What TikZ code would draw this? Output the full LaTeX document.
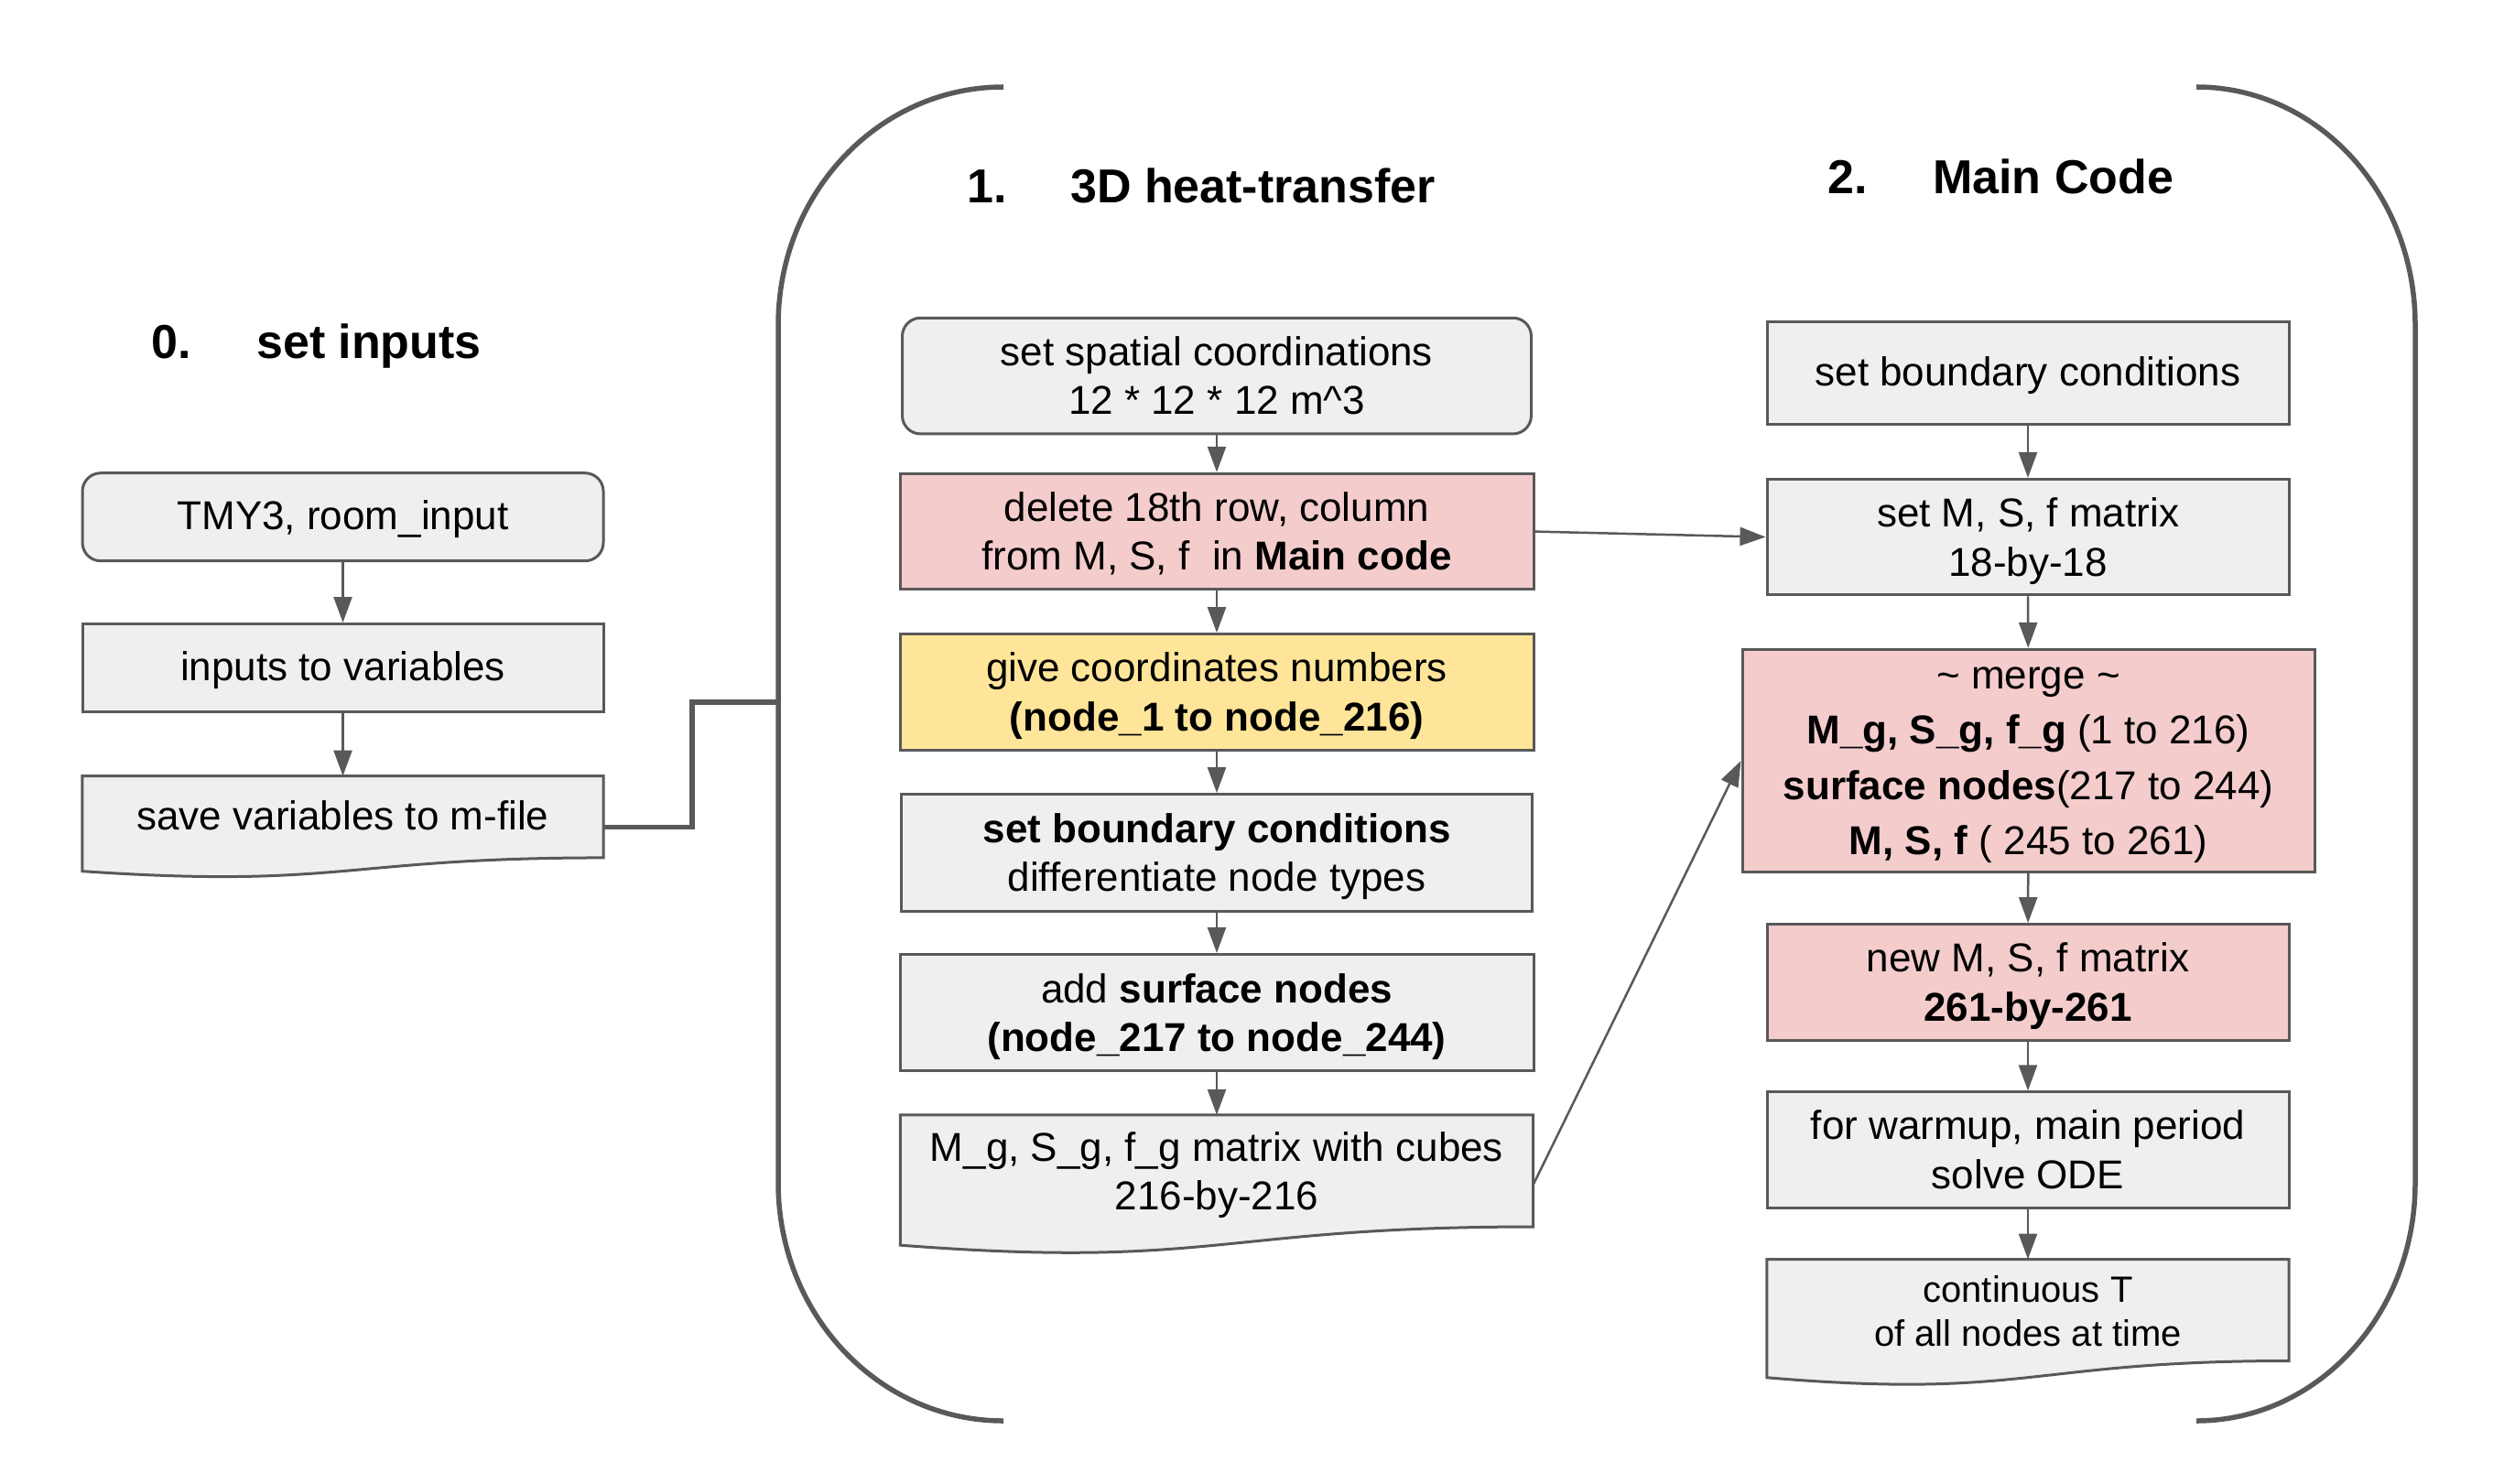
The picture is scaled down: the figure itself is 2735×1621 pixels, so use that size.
\documentclass[tikz,border=0pt]{standalone}
\usepackage{fontspec}
\setmainfont{Liberation Sans}
\usetikzlibrary{arrows.meta,calc}
\definecolor{strk}{HTML}{595959}
\definecolor{gfill}{HTML}{EFEFEF}
\definecolor{pfill}{HTML}{F4CCCC}
\definecolor{yfill}{HTML}{FFE599}
\newcommand\myBody{\fontsize{44}{53.5}\selectfont}
\newcommand\mySmall{\fontsize{40}{48}\selectfont}
\newcommand\myMerge{\fontsize{44}{60.5}\selectfont}
\newcommand\myTitle{\fontsize{52}{62}\selectfont\bfseries}
\newcommand\sB{\rule[-0.212em]{0pt}{0.1em}}
\newcommand\sT{\rule[-0.05em]{0pt}{0.905em}}
\newcommand\sTT{\rule[-0.05em]{0pt}{\dimexpr0.905em+3pt\relax}}
\newcommand\sTM{\rule[-0.05em]{0pt}{\dimexpr0.905em-4pt\relax}}
\tikzset{
  box/.style={draw=strk, line width=3pt, fill=gfill, inner sep=0pt, align=center, font=\myBody},
  rbox/.style={box, rounded corners=20pt},
  pinkbox/.style={box, fill=pfill},
  yelbox/.style={box, fill=yfill},
  docframe/.style={draw=none, inner sep=0pt},
  docshape/.style={draw=strk, line width=3pt, fill=gfill, line join=miter},
  doctext/.style={inner sep=0pt, align=center, font=\myBody},
  ttl/.style={inner sep=0pt, anchor=base west, font=\myTitle},
  arr/.style={draw=strk, line width=2.5pt, -{Triangle[length=28pt,width=20pt]}},
  bracketline/.style={draw=strk, line width=5.5pt},
}
\newcommand\docpath[1]{%
  \path[docshape] (#1.north west) -- (#1.north east) -- ($(#1.north east)!0.802!(#1.south east)$)
    .. controls ($(#1.north)!0.802!(#1.south)$) and ($(#1.north)!1.1075!(#1.south)$) ..
    ($(#1.north west)!0.934!(#1.south west)$) -- cycle;}
\begin{document}
\begin{tikzpicture}[x=1pt,y=-1pt]
\useasboundingbox (0,0) rectangle (2735,1621);

% titles
\node[ttl] (t0n) at (165,391) {0.};
\node[ttl] (t0) at (280,391) {set inputs};
\node[ttl] (t1n) at (1056,222) {1.};
\node[ttl] (t1) at (1169,222) {3D heat-transfer};
\node[ttl] (t2n) at (1996,212) {2.};
\node[ttl] (t2) at (2111,212) {Main Code};

% brackets
\draw[bracketline] (1096,95) .. controls (960,95) and (850,211) .. (850,355)
  -- (850,1292) .. controls (850,1436) and (960,1552) .. (1096,1552);
\draw[bracketline] (2399,95) .. controls (2531,95) and (2638,211) .. (2638,355)
  -- (2638,1292) .. controls (2638,1436) and (2531,1552) .. (2399,1552);
\coordinate (brk) at (850,767);

% column 0
\node[rbox, minimum width=569pt, minimum height=96pt] (tmy) at (374.5,564.7) {\sT TMY3, room\_input\sB};
\node[box, minimum width=569pt, minimum height=96pt] (inp) at (374.5,729.5) {\sT inputs to variables\sB};
\node[docframe, minimum width=569pt, minimum height=111pt] (save) at (374.5,903.3) {};
\docpath{save}
\node[doctext] (saveT) at ([yshift=11pt]save.center) {\sT save variables to m-file\sB};

% column 1
\node[rbox, minimum width=687pt, minimum height=126.7pt] (spat) at (1329,410.6) {\sTT set spatial coordinations\\12 * 12 * 12 m\textasciicircum 3\sB};
\node[pinkbox, minimum width=692pt, minimum height=126.7pt] (del) at (1329,580.6) {\sTT delete 18th row, column\\from M, S, f\ \ in \textbf{Main code}\sB};
\node[yelbox, minimum width=692pt, minimum height=126.7pt] (give) at (1329,756) {\sTT give coordinates numbers\\\textbf{(node\_1 to node\_216)}\sB};
\node[box, minimum width=689pt, minimum height=127.6pt] (bnd) at (1329,931.4) {\sTT\textbf{set boundary conditions}\\differentiate node types\sB};
\node[box, minimum width=692pt, minimum height=127.5pt] (surf) at (1329,1106.2) {\sTT add \textbf{surface nodes}\\\textbf{(node\_217 to node\_244)}\sB};
\node[docframe, minimum width=691pt, minimum height=152pt] (mg) at (1329,1294) {};
\docpath{mg}
\node[doctext] (mgT) at ([yshift=13pt]mg.center) {\sT M\_g, S\_g, f\_g matrix with cubes\\216-by-216\sB};

% column 2
\node[box, minimum width=570pt, minimum height=112pt] (sbc) at (2215,407) {\sT set boundary conditions\sB};
\node[box, minimum width=570pt, minimum height=126.3pt] (setm) at (2215,586.6) {\sTT set M, S, f matrix\\18-by-18\sB};
\node[pinkbox, font=\myMerge, minimum width=625pt, minimum height=243.4pt] (merge) at (2215.5,831) {\sTM\textasciitilde{} merge \textasciitilde\\\textbf{M\_g, S\_g, f\_g} (1 to 216)\\\textbf{surface nodes}(217 to 244)\\\textbf{M, S, f} ( 245 to 261)\sB};
\node[pinkbox, minimum width=570pt, minimum height=126.4pt] (newm) at (2215,1072.8) {\sTT new M, S, f matrix\\\textbf{261-by-261}\sB};
\node[box, minimum width=570pt, minimum height=126.3pt] (warm) at (2215,1256) {\sTT for warmup, main period\\solve ODE\sB};
\node[docframe, minimum width=570pt, minimum height=138pt] (cont) at (2215,1444.7) {};
\docpath{cont}
\node[doctext, font=\mySmall] (contT) at ([yshift=11pt]cont.center) {\sT continuous T\\of all nodes at time\sB};

% connectors
\draw[arr] (tmy) -- (inp);
\draw[arr] (inp) -- (save);
\draw[bracketline] (save.east) -- ++(97,0) |- (brk);

\draw[arr] (spat) -- (del);
\draw[arr] (del) -- (give);
\draw[arr] (give) -- (bnd);
\draw[arr] (bnd) -- (surf);
\draw[arr] (surf) -- (mg);
\draw[arr] (del.east) -- (setm.west);
\draw[arr] (mg.east) -- (merge.west);

\draw[arr] (sbc) -- (setm);
\draw[arr] (setm) -- (merge);
\draw[arr] (merge) -- (newm);
\draw[arr] (newm) -- (warm);
\draw[arr] (warm) -- (cont);
\end{tikzpicture}
\end{document}
